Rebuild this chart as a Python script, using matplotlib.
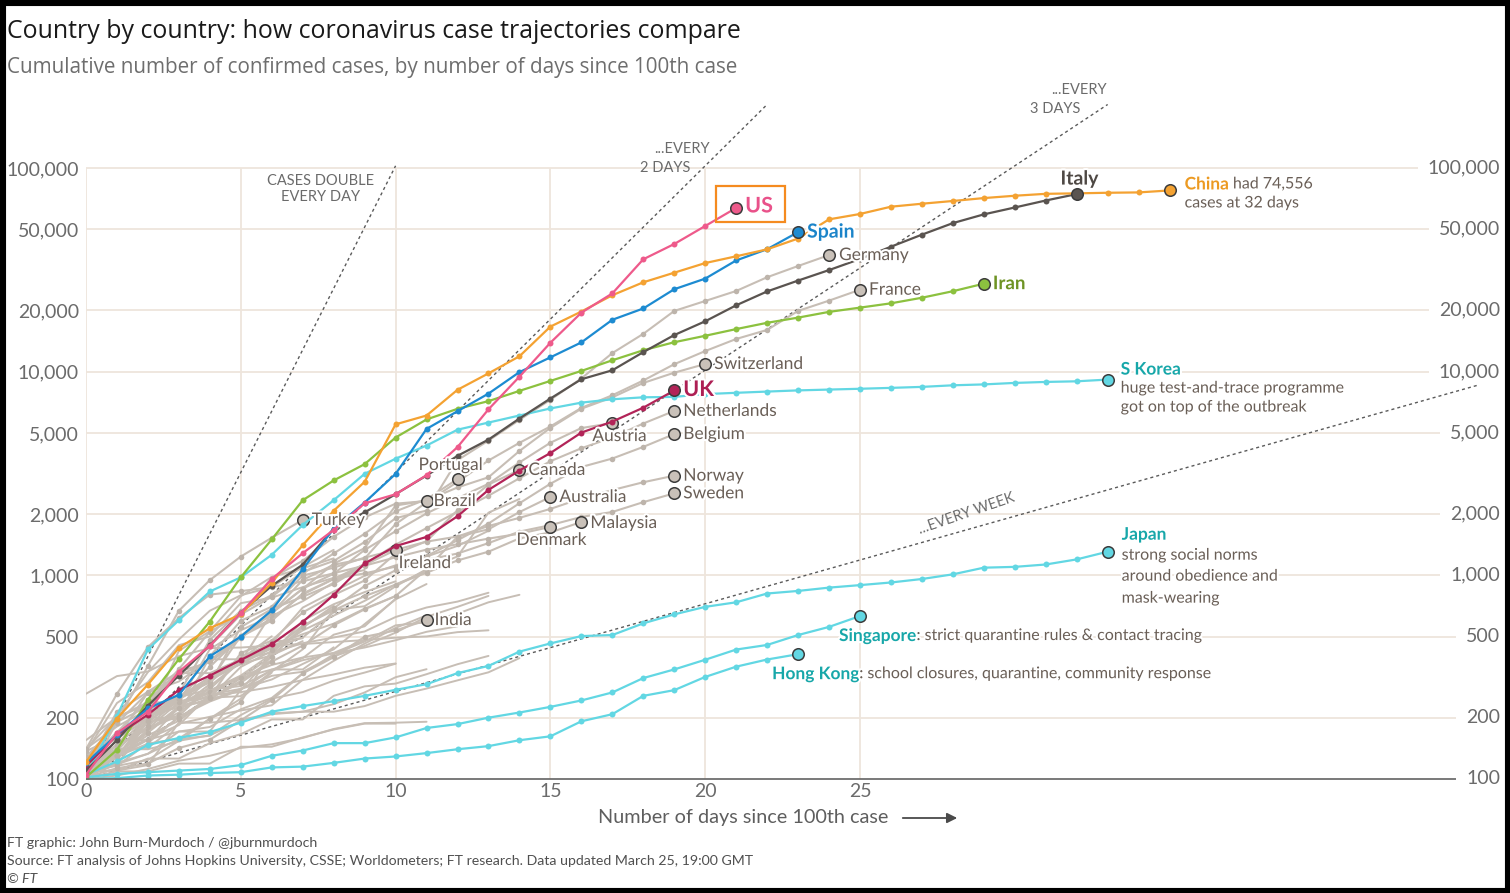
import numpy as np
import matplotlib
matplotlib.use("Agg")
import matplotlib.pyplot as plt
import matplotlib.patheffects as pe
from matplotlib.patches import Rectangle
from matplotlib.transforms import blended_transform_factory

# ---------------- data (cumulative cases, day 0 = first day >= 100 cases) -------------
china = [121, 198, 291, 440, 550, 643, 920, 1406, 2075, 2877, 5509, 6087, 8141, 9802, 11891,
         16630, 19716, 23707, 27440, 30587, 34110, 36814, 39829, 45000, 55900, 59400, 64500,
         66700, 68800, 71100, 73000, 74600, 75000, 75500, 75800, 77500]
italy = [110, 155, 229, 322, 453, 655, 888, 1128, 1694, 2036, 2502, 3089, 3858, 4636, 5883,
         7375, 9172, 10149, 12462, 15113, 17660, 21157, 24747, 27980, 31506, 35713, 41035,
         47021, 53578, 59138, 63927, 69176, 74386]
us = [105, 168, 214, 336, 451, 653, 959, 1284, 1670, 2255, 2500, 3100, 4260, 6530, 9440,
      13860, 19460, 24200, 35600, 42300, 51850, 63600]
spain = [120, 165, 222, 259, 400, 500, 673, 1073, 1695, 2277, 3146, 5232, 6391, 7798, 9942,
         11748, 13910, 17963, 20410, 25374, 28603, 35136, 39885, 48400]
iran = [102, 139, 245, 388, 593, 978, 1501, 2336, 2922, 3513, 4747, 5823, 6566, 7161, 8042,
        9000, 10075, 11364, 12729, 13938, 14991, 16169, 17361, 18407, 19644, 20610, 21638,
        23049, 24811, 27017]
uk = [116, 164, 207, 274, 322, 384, 459, 590, 801, 1143, 1391, 1543, 1950, 2626, 3269, 3983,
      5018, 5683, 6650, 8077]
s_korea = [104, 204, 433, 602, 833, 977, 1261, 1766, 2337, 3150, 3736, 4335, 5186, 5621, 6088,
           6593, 7041, 7314, 7478, 7513, 7755, 7869, 7979, 8086, 8162, 8236, 8320, 8413, 8565,
           8652, 8799, 8897, 8961, 9137]
japan = [105, 122, 147, 159, 170, 189, 214, 228, 241, 256, 274, 292, 331, 359, 422, 463, 503,
         509, 581, 643, 700, 737, 814, 838, 870, 895, 922, 959, 1011, 1090, 1100, 1130, 1197, 1306]
singapore = [102, 106, 108, 110, 112, 117, 130, 138, 150, 150, 160, 178, 186, 200, 212, 226,
             243, 266, 313, 345, 385, 432, 455, 509, 558, 631]
hong_kong = [100, 101, 104, 105, 107, 108, 114, 115, 120, 126, 129, 134, 140, 145, 155, 162,
             192, 208, 256, 273, 317, 356, 386, 410]

# labelled grey countries
germany = [130, 159, 196, 262, 482, 670, 799, 1040, 1176, 1457, 1908, 2078, 3675, 4585, 5795,
           7272, 9257, 12327, 15320, 19848, 22213, 24873, 29056, 32986, 37323]
france = [100, 130, 191, 204, 285, 377, 653, 949, 1126, 1209, 1784, 2281, 2876, 3661, 4469,
          5380, 6633, 7652, 9043, 10871, 12612, 14459, 16018, 19856, 22304, 25233]
switzerland = [114, 214, 268, 337, 374, 491, 652, 858, 1139, 1359, 2200, 2330, 2700, 3028,
               4075, 5294, 6575, 7474, 8795, 9877, 10897]
netherlands = [128, 188, 265, 321, 382, 503, 614, 804, 959, 1135, 1413, 1705, 2051, 2460, 2994,
               3631, 4204, 4749, 5560, 6412]
belgium = [109, 169, 200, 239, 267, 314, 399, 559, 689, 886, 1058, 1243, 1486, 1795, 2257, 2815,
           3401, 3743, 4269, 4937]
norway = [113, 147, 176, 205, 400, 598, 702, 996, 1090, 1221, 1333, 1463, 1550, 1746, 1914,
          2118, 2385, 2621, 2863, 3084]
sweden = [137, 161, 203, 248, 355, 500, 599, 814, 961, 1022, 1103, 1190, 1279, 1439, 1639, 1763,
          1934, 2046, 2286, 2526]
austria = [104, 131, 182, 246, 302, 504, 655, 860, 1018, 1332, 1646, 2013, 2388, 2814, 3582,
           4474, 5283, 5588]
canada = [108, 117, 193, 198, 252, 415, 478, 657, 800, 943, 1277, 1469, 2088, 2790, 3290]
portugal = [112, 169, 245, 331, 448, 642, 785, 1020, 1280, 1600, 2060, 2362, 2970]
brazil = [121, 200, 234, 346, 529, 640, 970, 1178, 1546, 1924, 2247, 2315]
australia = [107, 128, 156, 200, 250, 297, 377, 452, 568, 681, 791, 1071, 1549, 1682, 2044, 2423]
denmark = [140, 262, 444, 617, 804, 836, 875, 933, 1024, 1115, 1225, 1337, 1420, 1514, 1600,
           1727]
malaysia = [117, 129, 149, 158, 197, 238, 428, 566, 673, 790, 900, 1030, 1183, 1306, 1518, 1624,
            1827]
turkey = [100, 191, 359, 670, 947, 1236, 1529, 1869]
ireland = [100, 129, 169, 223, 292, 557, 683, 785, 906, 1125, 1330]
india = [102, 113, 119, 142, 156, 194, 244, 330, 396, 499, 536, 603]

# unlabelled grey countries
israel = [109, 131, 164, 193, 251, 255, 337, 433, 677, 705, 883, 1071, 1238, 2030, 2369]
czechia = [116, 141, 189, 253, 298, 396, 464, 694, 833, 995, 1120, 1236, 1394, 1654]
qatar = [262, 320, 337, 401, 439, 442, 452, 460, 470, 481, 494, 501, 526, 537]
greece = [117, 190, 228, 331, 331, 387, 418, 464, 495, 530, 624, 695, 743, 821]
poland = [103, 119, 177, 238, 251, 355, 425, 536, 634, 749, 901, 1051]
finland = [109, 156, 155, 225, 244, 277, 321, 336, 400, 450, 523, 626, 700, 792]
chile = [155, 201, 238, 238, 434, 537, 632, 746, 922, 1142]
ecuador = [111, 168, 199, 426, 532, 789, 981, 1082, 1211]
luxembourg = [140, 203, 335, 484, 670, 798, 875, 1099, 1333]
pakistan = [136, 236, 299, 454, 501, 730, 776, 875, 972, 1063]
saudi_arabia = [103, 118, 133, 171, 171, 274, 344, 392, 511, 562, 767]
thailand = [114, 147, 177, 212, 272, 322, 411, 599, 721, 827, 934]
indonesia = [117, 134, 172, 227, 311, 369, 450, 514, 579, 686, 790]
philippines = [111, 140, 142, 187, 202, 217, 230, 307, 380, 462, 552, 636]
iceland = [103, 134, 156, 171, 180, 220, 250, 330, 409, 473, 568, 588, 648, 737, 802]
romania = [123, 131, 158, 184, 260, 277, 308, 367, 433, 576, 762, 906]
slovenia = [141, 181, 219, 253, 275, 286, 341, 383, 414, 442, 480, 528, 562]
bahrain = [109, 110, 117, 189, 189, 195, 210, 214, 214, 228, 256, 278, 305, 334, 392]
estonia = [115, 171, 205, 225, 258, 267, 283, 306, 326, 352, 369]
peru = [117, 145, 234, 234, 263, 318, 363, 395, 416, 480]
mexico = [118, 164, 203, 251, 316, 367, 405, 475]
russia = [114, 147, 199, 253, 306, 367, 438, 495, 658]
south_africa = [116, 116, 150, 202, 240, 274, 402, 554, 709]
panama = [109, 137, 200, 200, 245, 313, 345, 345, 443]
argentina = [128, 158, 266, 301, 387, 387, 502]
colombia = [102, 128, 196, 231, 277, 378, 470, 491]
croatia = [105, 128, 206, 254, 315, 382, 442]
iraq = [110, 116, 124, 154, 164, 192, 208, 214, 233, 266, 316, 346]
lebanon = [109, 120, 133, 157, 163, 206, 248, 267, 304, 333, 368]
egypt = [109, 110, 126, 126, 150, 166, 196, 196, 256, 285, 294, 327, 366, 402]
kuwait = [100, 104, 112, 123, 130, 142, 148, 159, 176, 188, 189, 191]
uae = [113, 140, 140, 153, 198, 248, 333]
serbia = [103, 135, 171, 222, 249, 303, 384]
san_marino = [101, 109, 109, 119, 119, 144, 144, 160, 175, 187, 187]

x_ticks = [0, 5, 10, 15, 20, 25]
y_ticks = [100, 200, 500, 1000, 2000, 5000, 10000, 20000, 50000, 100000]
y_tick_labels = ["100", "200", "500", "1,000", "2,000", "5,000", "10,000", "20,000", "50,000",
                 "100,000"]
doubling = [("CASES DOUBLE\nEVERY DAY", 1, 10), ("...EVERY\n2 DAYS", 2, 22),
            ("...EVERY\n3 DAYS", 3, 33), ("...EVERY WEEK", 7, 45)]

# ---------------- styling -------------
FONT = "Lato"
plt.rcParams["font.family"] = [FONT, "DejaVu Sans"]
GREY = "#c7beb5"
GREY_DOT = "#bdb4ab"
GREY_END = "#c9c1b9"
EDGE = "#3b3b3b"
LBL = "#6a5f57"
TEAL = "#17a7a9"
CYAN = "#62d7e3"
AX_TXT = "#6b6b6b"
GRID = "#eee5dc"
halo = [pe.withStroke(linewidth=3, foreground="white")]

W, H = 1510, 893
fig = plt.figure(figsize=(W / 100, H / 100), dpi=100)
fig.patch.set_facecolor("white")

PX_DAY = 30.96
PX_DEC = 203.7
X0, Y0, Y1 = 86, 779, 95
XMAX = 45
ax = fig.add_axes([X0 / W, (H - Y0) / H, XMAX * PX_DAY / W, (Y0 - Y1) / H])
ax.set_yscale("log")
ax.set_xlim(0, XMAX)
ax.set_ylim(100, 100 * 10 ** ((Y0 - Y1) / PX_DEC))
for s in ["top", "right", "left", "bottom"]:
    ax.spines[s].set_visible(False)
ax.set_xticks(x_ticks)
ax.set_xticklabels([str(t) for t in x_ticks])
ax.set_yticks(y_ticks)
ax.set_yticklabels(y_tick_labels)
ax.yaxis.set_minor_locator(matplotlib.ticker.NullLocator())
ax.tick_params(axis="both", length=0, labelsize=14, labelcolor=AX_TXT)
ax.tick_params(axis="x", pad=3)
ax.tick_params(axis="y", pad=5)
ax.set_facecolor("none")

# vertical grid
ax.vlines(x_ticks, 100, 100000, color=GRID, lw=1.3, zorder=0)

# right hand labels
rtrans = blended_transform_factory(fig.transFigure, ax.transData)
rlabels = []
for v, lab in zip(y_ticks, y_tick_labels):
    t = fig.text(1500 / W, v, lab, transform=rtrans, ha="right", va="center", fontsize=14,
                 color=AX_TXT)
    rlabels.append((v, t))

fig.canvas.draw()
rend = fig.canvas.get_renderer()
inv = ax.transData.inverted()
for v, t in rlabels:
    bb = t.get_window_extent(rend)
    xend = inv.transform((bb.x0 - 10, 0))[0]
    if v == 100:
        ax.hlines(v, 0, xend, color="#6e6e6e", lw=1.3, zorder=8, clip_on=False)
    else:
        ax.hlines(v, 0, xend, color=GRID, lw=1.3, zorder=0)

# doubling reference lines
for lab, k, dmax in doubling:
    d = np.linspace(0, dmax, 300)
    ax.plot(d, 100 * 2 ** (d / k), color="#5a5a5a", lw=1.0, ls=(0, (2.2, 2.2)), zorder=1)

def p(vals):
    return np.arange(len(vals)), np.asarray(vals, float)

# unlabelled grey
for s in [israel, czechia, qatar, greece, poland, finland, chile, ecuador, luxembourg,
          pakistan, saudi_arabia, thailand, indonesia, philippines, iceland, romania, slovenia,
          bahrain, estonia, peru, mexico, russia, south_africa, panama, argentina, colombia,
          croatia, iraq, lebanon, egypt, kuwait, uae, serbia, san_marino]:
    d, v = p(s)
    ax.plot(d, v, color=GREY, lw=1.4, zorder=2, solid_joinstyle="round",
            solid_capstyle="round")

def draw(vals, color, dotc=None, endc=None, lw=1.6, ms=4.3, z=3):
    d, v = p(vals)
    ax.plot(d, v, color=color, lw=lw, marker="o", ms=ms, mfc=dotc or color, mec=dotc or color,
            mew=0, zorder=z, solid_joinstyle="round")
    ax.plot(d[-1], v[-1], "o", ms=8.3, mfc=endc or color, mec=EDGE, mew=1.1, zorder=z + 0.1)

grey_lab = [germany, france, switzerland, netherlands, belgium, norway, sweden, austria, canada,
            portugal, brazil, australia, denmark, malaysia, turkey, ireland, india]
for s in grey_lab:
    draw(s, GREY, GREY_DOT, GREY_END, lw=1.5, ms=4.0, z=3)

for s in [s_korea, japan, singapore, hong_kong]:
    draw(s, CYAN, z=4)
draw(iran, "#8cc13f", z=5)
draw(uk, "#b22458", z=5)
draw(italy, "#5a5450", z=6)
draw(spain, "#1d8bd1", z=6)
draw(china, "#f4a232", z=6)
draw(us, "#ee5a8b", z=7)

def label(vals, text, dx, dy, color=LBL, size=12.5, weight="normal", ha="left", z=9):
    d, v = p(vals)
    return ax.annotate(text, xy=(d[-1], v[-1]), xytext=(dx, dy), textcoords="offset pixels",
                       ha=ha, va="center", fontsize=size, color=color, fontweight=weight,
                       path_effects=halo, zorder=z)

label(us, "US", 9, 2, "#e9528a", 15.5, "bold")
label(spain, "Spain", 9, 0, "#1b84c9", 14, "bold")
label(germany, "Germany", 10, 0)
label(france, "France", 9, 0)
label(italy, "Italy", 3, 15, "#4e4844", 14, "bold", ha="center")
chl = label(china, "China", 15, 6, "#ec9a22", 12.5, "bold")
label(china, "cases at 32 days", 15, -13, LBL, 11.5)
label(iran, "Iran", 9, 0, "#6e9324", 13.5, "bold")
label(switzerland, "Switzerland", 9, 0)
label(uk, "UK", 9, 1, "#ad1f54", 15.5, "bold")
label(netherlands, "Netherlands", 9, 0)
label(belgium, "Belgium", 9, 0)
label(norway, "Norway", 9, 0)
label(sweden, "Sweden", 9, 0)
label(austria, "Austria", -20, -13)
label(canada, "Canada", 9, 0)
label(portugal, "Portugal", -39, 14)
label(brazil, "Brazil", 7, 0)
label(australia, "Australia", 9, 0)
label(malaysia, "Malaysia", 9, -1)
label(denmark, "Denmark", -34, -13)
label(turkey, "Turkey", 9, 0)
label(ireland, "Ireland", 3, -13)
label(india, "India", 8, 0)
label(s_korea, "S Korea", 13, 10, TEAL, 12.5, "bold")
label(s_korea, "huge test-and-trace programme", 13, -9, LBL, 11.5)
label(s_korea, "got on top of the outbreak", 13, -28, LBL, 11.5)
label(japan, "Japan", 14, 17, TEAL, 12.5, "bold")
label(japan, "strong social norms", 14, -4, LBL, 11.5)
label(japan, "around obedience and", 14, -25, LBL, 11.5)
label(japan, "mask-wearing", 14, -47, LBL, 11.5)
sgl = label(singapore, "Singapore", -21, -20, TEAL, 12.5, "bold")
hkl = label(hong_kong, "Hong Kong", -26, -20, TEAL, 12.5, "bold")

fig.canvas.draw()
rend = fig.canvas.get_renderer()
for anchor, rest in [(chl, " had 74,556"), (sgl, ": strict quarantine rules & contact tracing"),
                     (hkl, ": school closures, quarantine, community response")]:
    bb = anchor.get_window_extent(rend)
    yc = (bb.y0 + bb.y1) / 2
    fig.text(bb.x1 / W, yc / H, rest, ha="left", va="center", fontsize=11.5, color=LBL,
             path_effects=halo, zorder=9)

# doubling line labels
ax.annotate("CASES DOUBLE\nEVERY DAY", xy=(321 / W, (H - 189) / H), xycoords="figure fraction",
            ha="center", va="center", fontsize=10.5, color=AX_TXT, linespacing=1.25)
ax.annotate("...EVERY", xy=(710 / W, (H - 149) / H), xycoords="figure fraction", ha="right",
            va="center", fontsize=10.5, color=AX_TXT)
ax.annotate("2 DAYS", xy=(690 / W, (H - 168) / H), xycoords="figure fraction", ha="right",
            va="center", fontsize=10.5, color=AX_TXT)
ax.annotate("...EVERY", xy=(1107 / W, (H - 90) / H), xycoords="figure fraction", ha="right",
            va="center", fontsize=10.5, color=AX_TXT)
ax.annotate("3 DAYS", xy=(1080 / W, (H - 109) / H), xycoords="figure fraction", ha="right",
            va="center", fontsize=10.5, color=AX_TXT)
ax.annotate("...EVERY WEEK", xy=(967 / W, (H - 514) / H), xycoords="figure fraction",
            ha="center", va="center", fontsize=10.5, color=AX_TXT, rotation=19)

# US highlight box
ux, uy = ax.transData.transform((len(us) - 1, us[-1]))
fig.patches.append(Rectangle((ux - 20, uy - 14), 69, 36, transform=None, fill=False,
                             edgecolor="#f58b1f", lw=1.6, zorder=10))

# titles
fig.text(7 / W, (H - 31) / H, "Country by country: how coronavirus case trajectories compare",
         ha="left", va="center", fontsize=17.9, color="#1a1a1a",
         family=["Open Sans", "DejaVu Sans"])
fig.text(7 / W, (H - 68) / H,
         "Cumulative number of confirmed cases, by number of days since 100th case",
         ha="left", va="center", fontsize=14.9, color="#6e6e6e",
         family=["Open Sans", "DejaVu Sans"])

# x label with arrow
fig.text(888 / W, (H - 817) / H, "Number of days since 100th case", ha="right", va="center",
         fontsize=14.3, color="#5e5e5e")
fig.add_artist(matplotlib.patches.FancyArrowPatch((900 / W, (H - 818) / H),
                                                  (960 / W, (H - 818) / H),
                                                  transform=fig.transFigure,
                                                  arrowstyle="-|>,head_length=6,head_width=3",
                                                  color="#4a4a4a", lw=1.3))

# footer
for i, line in enumerate(["FT graphic: John Burn-Murdoch / @jburnmurdoch",
                          "Source: FT analysis of Johns Hopkins University, CSSE; Worldometers; "
                          "FT research. Data updated March 25, 19:00 GMT",
                          "\u00a9 FT"]):
    fig.text(7 / W, (H - 843 - 18 * i) / H, line, ha="left", va="center", fontsize=10.2,
             color="#505050", style="italic" if i == 2 else "normal")

# black screenshot frame
fig.patches.append(Rectangle((0, 0), 1, 1, transform=fig.transFigure, fill=False,
                             edgecolor="black", lw=8, zorder=20))

fig.savefig("out.png", dpi=100, facecolor="white")
